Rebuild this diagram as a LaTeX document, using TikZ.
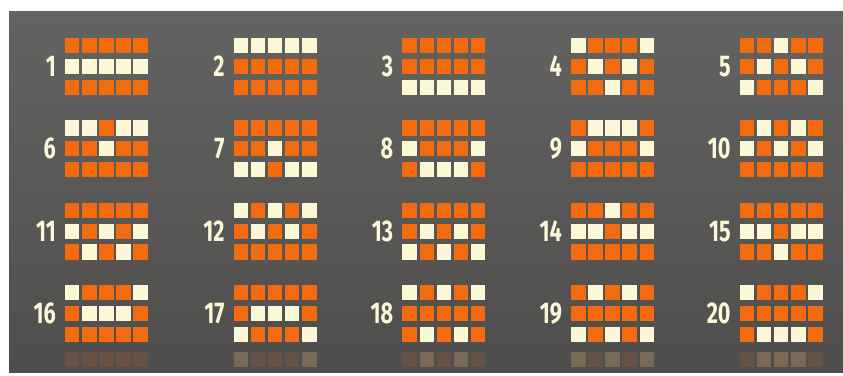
\documentclass[tikz,border=0pt]{standalone}
\usepackage{fontspec}
\setsansfont[FakeStretch=0.72]{Fira Sans}
\definecolor{bgtop}{HTML}{636362}
\definecolor{bgbot}{HTML}{4F4E4C}
\definecolor{lineorange}{HTML}{F26B0E}
\definecolor{linecream}{HTML}{FCF7D4}

\begin{document}
\begin{tikzpicture}[x=1pt,y=-1pt,
  cell/.style={fill=lineorange},
  hit/.style={fill=linecream},
  num/.style={font=\sffamily\bfseries\fontsize{30}{30}\selectfont,text=linecream,anchor=east,inner sep=0pt}]
\useasboundingbox (0,0) rectangle (843,375);
\shade[top color=bgtop,bottom color=bgbot] (9,11) rectangle (843,372);
% paylines: row of the lit cell in each of the five reels (0 = top)
\foreach \k/\a/\b/\c/\d/\e in {1/1/1/1/1/1,2/0/0/0/0/0,3/2/2/2/2/2,4/0/1/2/1/0,5/2/1/0/1/2,
  6/0/0/1/0/0,7/2/2/1/2/2,8/1/2/2/2/1,9/1/0/0/0/1,10/1/0/1/0/1,
  11/1/2/1/2/1,12/0/1/0/1/0,13/2/1/2/1/2,14/1/1/0/1/1,15/1/1/2/1/1,
  16/0/1/1/1/0,17/2/1/1/1/2,18/0/2/0/2/0,19/2/0/2/0/2,20/0/2/2/2/0}{
  \pgfmathsetmacro\gx{65+mod(\k-1,5)*168.7}
  \pgfmathsetmacro\gy{38+floor((\k-1)/5)*82.4}
  \node[num] (n\k) at (\gx-9,\gy+28.5) {\k};
  \foreach \j/\h in {0/\a,1/\b,2/\c,3/\d,4/\e}{
    \foreach \i in {0,1,2}
      \fill[cell] (\gx+\j*17.1,\gy+\i*20.8) rectangle ++(14.4,15.2);
    \fill[hit] (\gx+\j*17.1,\gy+\h*20.8) rectangle ++(14.4,15.2);
  }
  % faint reflection under the last row
  \ifnum\k>15
  \begin{scope}[opacity=0.14]
    \clip (9,346) rectangle (843,372);
    \foreach \j/\h in {0/\a,1/\b,2/\c,3/\d,4/\e}{
      \foreach \i in {0,1,2}
        \fill[cell] (\gx+\j*17.1,694-\gy-\i*20.8-15.2) rectangle ++(14.4,15.2);
      \fill[hit] (\gx+\j*17.1,694-\gy-\h*20.8-15.2) rectangle ++(14.4,15.2);
    }
  \end{scope}
  \fi
}
\end{tikzpicture}
\end{document}
